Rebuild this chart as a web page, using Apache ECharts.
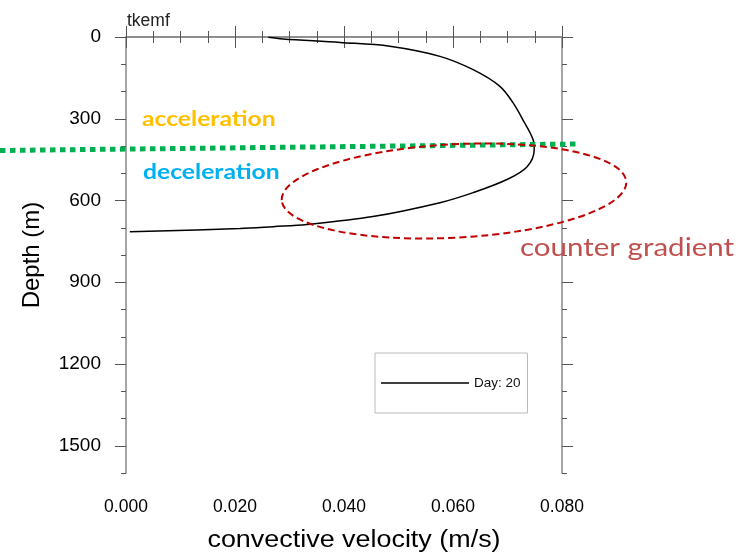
<!DOCTYPE html>
<html>
<head>
<meta charset="utf-8">
<script src="https://cdn.jsdelivr.net/npm/echarts@6/dist/echarts.min.js"></script>
<style>html,body{margin:0;padding:0;background:#fff}#c{width:743px;height:552px}</style>
</head>
<body>
<div id="c"></div>
<script>
// convective velocity (m/s) and depth (m) of the Day: 20 profile
var velocity = [0.0261, 0.0288, 0.0393, 0.0484, 0.0576, 0.0637, 0.0686, 0.0710, 0.0728, 0.0747, 0.0749, 0.0736, 0.0699, 0.0637, 0.0576, 0.0453, 0.0332, 0.0270, 0.0209, 0.0007];
var depth    = [1,      7,      20,     34,     71,     120,    181,    241,    303,    377,    413,    476,    523,    571,    608,    659,    688,    696,    703,    715];
var seriesName = 'Day: 20';
var xTicks = [0, 0.02, 0.04, 0.06, 0.08];
var yTicks = [0, 300, 600, 900, 1200, 1500];
var xTitle = 'convective velocity (m/s)';
var yTitle = 'Depth (m)';

var data = velocity.map(function (v, i) { return [v, depth[i]]; });
var chart = echarts.init(document.getElementById('c'), null, {renderer: 'canvas'});
var axisCol = '#888';
var tickCol = '#555';
var labelFont = 'Liberation Sans';

function yAxisDef(pos, major) {
  return {
    type: 'value', position: pos, inverse: true, min: 0, max: 1600,
    interval: major ? 300 : 100,
    axisLine: {show: major, lineStyle: {color: axisCol, width: 1.5}},
    axisTick: major ? {show: true, length: 11, customValues: yTicks, lineStyle: {color: tickCol, width: 1}}
                    : {show: true, length: 5, lineStyle: {color: tickCol, width: 1}},
    axisLabel: (major && pos === 'left') ? {show: true, customValues: yTicks, margin: 25, fontSize: 19, color: '#000', fontFamily: labelFont,
      formatter: function (v) { return String(v); }} : {show: false},
    splitLine: {show: false},
    name: (major && pos === 'left') ? yTitle : '',
    nameLocation: 'middle', nameGap: 82, nameRotate: 90,
    nameTextStyle: {fontSize: 24, color: '#000', fontFamily: labelFont}
  };
}
function xAxisDef(pos) {
  var bottom = pos === 'bottom';
  return {
    type: 'value', position: pos, min: 0, max: 0.08, interval: 0.02,
    axisLine: {show: true, lineStyle: {color: axisCol, width: 1.5}},
    axisTick: {show: true, length: 11, lineStyle: {color: tickCol, width: 1}},
    minorTick: {show: true, splitNumber: 4, length: 6, lineStyle: {color: tickCol, width: 1}},
    axisLabel: bottom ? {show: true, margin: 25, fontSize: 17.5, color: '#000', fontFamily: labelFont,
      formatter: function (v) { return v.toFixed(3); }} : {show: false},
    splitLine: {show: false}, minorSplitLine: {show: false}
  };
}

chart.setOption({
  backgroundColor: '#fff',
  animation: false,
  title: {text: 'tkemf', left: 122, top: 7, textStyle: {fontSize: 17.5, fontWeight: 'normal', color: '#222', fontFamily: labelFont}},
  grid: {left: 126, right: 181, top: 37, bottom: 79, containLabel: false},
  xAxis: [xAxisDef('bottom'), xAxisDef('top')],
  yAxis: [yAxisDef('left', true), yAxisDef('left', false), yAxisDef('right', true), yAxisDef('right', false)],
  legend: {
    data: [{name: seriesName, icon: 'rect'}], left: 375, top: 353, orient: 'vertical',
    padding: [23, 7, 23, 6], itemWidth: 88, itemHeight: 1.6,
    borderColor: '#bbb', borderWidth: 1, backgroundColor: '#fff',
    itemStyle: {color: '#000', borderWidth: 0},
    textStyle: {fontSize: 13.5, color: '#111', fontFamily: labelFont, padding: [0, 0, 0, 0]}
  },
  series: [{
    name: seriesName, type: 'line', data: data, smooth: 0.35,
    showSymbol: false, symbol: 'none', xAxisIndex: 0, yAxisIndex: 0,
    lineStyle: {color: '#000', width: 1.5}, itemStyle: {color: '#000'}
  }],
  graphic: [
    {type: 'text', x: 354, y: 541, scaleX: 1.17, style: {text: xTitle, fill: '#000', font: '23px "Liberation Sans"', align: 'center', verticalAlign: 'middle'}},
    {type: 'line', shape: {x1: 0, y1: 150.5, x2: 577, y2: 144},
     style: {stroke: '#00B050', lineWidth: 5, lineDash: [5.5, 4.5], lineCap: 'butt'}, z: 100},
    {type: 'ellipse', x: 454, y: 191, rotation: 0.053, shape: {cx: 0, cy: 0, rx: 172.5, ry: 46.7},
     style: {fill: null, stroke: '#C00000', lineWidth: 2, lineDash: [7, 4]}, z: 100},
    {type: 'text', x: 142, y: 119, scaleX: 1.175, style: {text: 'acceleration', fill: '#FFC000', font: 'bold 21px Lato', align: 'left', verticalAlign: 'middle'}, z: 100},
    {type: 'text', x: 143, y: 172, scaleX: 1.175, style: {text: 'deceleration', fill: '#00B0F0', font: 'bold 21px Lato', align: 'left', verticalAlign: 'middle'}, z: 100},
    {type: 'text', x: 520, y: 248, scaleX: 1.18, style: {text: 'counter gradient', fill: '#C0504D', font: '25px Lato', align: 'left', verticalAlign: 'middle'}, z: 100}
  ]
});
</script>
</body>
</html>
